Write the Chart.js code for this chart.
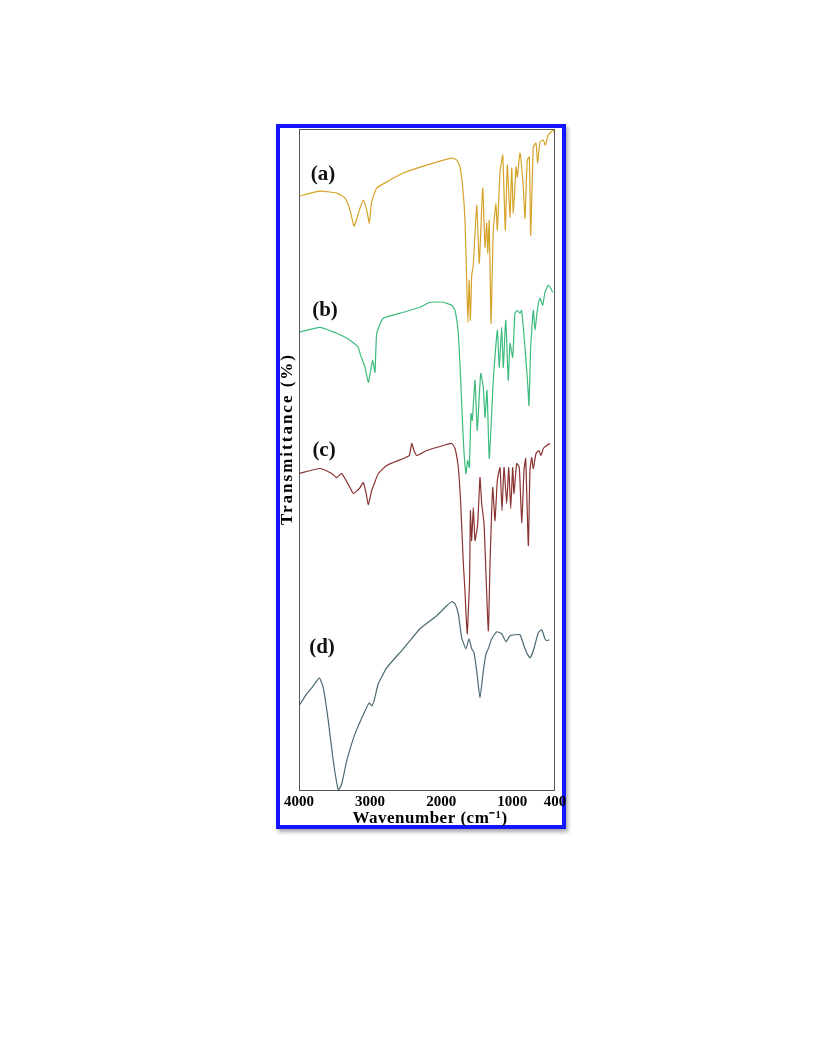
<!DOCTYPE html>
<html>
<head>
<meta charset="utf-8">
<script src="https://cdn.jsdelivr.net/npm/chart.js@4.4.0/dist/chart.umd.min.js"></script>
<style>
  body { margin: 0; background: #fff; }
  .frame { position: absolute; left: 276px; top: 124px; width: 290px; height: 705px; box-sizing: border-box;
           border: 4px solid #1414ff; box-shadow: 2px 3px 4px rgba(0,0,0,0.35); background: #fff; }
  .wrap { position: absolute; left: 260px; top: 110px; width: 320px; height: 740px; }
</style>
</head>
<body>
<div class="frame"></div>
<div class="wrap"><canvas id="ftir"></canvas></div>
<script>
//x軸の目盛り
var xTicks = [4000, 3000, 2000, 1000, 400];

//スペクトル名
var seriesNames = ['(a)', '(b)', '(c)', '(d)'];

//(a)
var waveA = [4000, 3705, 3470, 3353, 3283, 3227, 3180, 3142, 3096, 3058, 3034, 3012, 2992, 2978, 2907, 2720, 2537, 2298, 2064, 1853,
             1782, 1736, 1698, 1666, 1642, 1625, 1607, 1590, 1571, 1549, 1501, 1465, 1417, 1384, 1360, 1345, 1325, 1300, 1268, 1230,
             1211, 1173, 1135, 1099, 1071, 1033, 1009, 986, 948, 930, 892, 846, 822, 790, 761, 742, 705, 667, 644, 611,
             565, 536, 494, 424, 400];
var transA = [59.4, 59.9, 59.7, 59.2, 58.0, 56.4, 57.3, 58.2, 59.0, 58.3, 57.5, 56.7, 58.0, 58.8, 60.2, 61.0, 61.7, 62.3, 62.8, 63.2,
              63.0, 62.3, 60.3, 57.0, 51.0, 46.8, 51.0, 47.0, 51.5, 52.5, 58.5, 52.7, 60.2, 54.3, 56.7, 53.7, 57.0, 46.7, 56.0, 58.7,
              56.0, 61.8, 63.5, 56.0, 62.5, 57.3, 62.2, 57.7, 62.3, 61.3, 63.7, 60.3, 57.2, 63.0, 63.3, 55.5, 64.3, 64.7, 62.7, 64.8,
              65.0, 64.5, 65.5, 66.0, 65.5];

//(b)
var waveB = [4000, 3705, 3470, 3377, 3283, 3166, 3142, 3072, 3025, 2992, 2964, 2931, 2907, 2815, 2533, 2298, 2158, 1971, 1853, 1806,
             1760, 1726, 1689, 1652, 1628, 1605, 1581, 1563, 1525, 1493, 1445, 1408, 1384, 1356, 1324, 1268, 1211, 1183, 1150, 1127,
             1093, 1057, 1033, 995, 963, 930, 892, 869, 822, 784, 766, 742, 705, 681, 649, 611, 573, 541, 494, 461, 432];
var transB = [45.8, 46.3, 45.7, 45.4, 45.0, 44.3, 43.7, 42.3, 40.8, 42.0, 43.0, 41.8, 45.7, 47.2, 47.8, 48.3, 48.8, 48.8, 48.5, 48.0,
              45.7, 41.0, 35.0, 31.7, 33.0, 32.3, 37.7, 37.0, 41.0, 36.0, 41.7, 40.3, 37.3, 40.0, 33.2, 41.0, 46.0, 42.3, 46.3, 42.3,
              47.0, 41.0, 44.7, 43.3, 47.7, 48.0, 47.7, 48.0, 44.3, 40.7, 38.5, 44.3, 48.0, 46.0, 48.0, 49.2, 48.5, 49.8, 50.5, 50.2, 49.8];

//(c)
var waveC = [4000, 3705, 3540, 3470, 3400, 3283, 3236, 3180, 3142, 3096, 3058, 3025, 2978, 2941, 2885, 2767, 2533, 2449, 2415, 2383,
             2345, 2204, 1971, 1853, 1806, 1760, 1726, 1689, 1666, 1652, 1633, 1619, 1600, 1590, 1572, 1549, 1525, 1487, 1455, 1431,
             1398, 1338, 1314, 1276, 1244, 1211, 1173, 1145, 1117, 1079, 1051, 1023, 995, 977, 939, 902, 868, 836, 812, 775,
             752, 728, 705, 667, 625, 597, 565, 517, 470];
var transC = [31.7, 32.2, 31.7, 31.3, 31.7, 30.3, 29.7, 30.0, 30.3, 30.8, 29.8, 28.6, 30.0, 30.7, 31.7, 32.5, 33.2, 33.5, 34.7, 34.0,
              33.5, 34.0, 34.5, 34.7, 34.2, 32.3, 28.7, 22.7, 20.0, 17.7, 15.7, 18.0, 21.3, 28.0, 25.0, 28.3, 25.0, 26.7, 31.3, 28.7,
              26.7, 16.0, 22.7, 30.3, 27.0, 31.0, 32.3, 28.0, 32.3, 28.7, 32.3, 28.2, 32.3, 29.7, 32.7, 32.3, 26.8, 32.0, 33.2, 24.5,
              32.0, 33.3, 32.2, 33.7, 34.0, 33.5, 34.2, 34.5, 34.7];

//(d)
var waveD = [4000, 3892, 3799, 3715, 3658, 3588, 3518, 3447, 3400, 3329, 3213, 3072, 3011, 2978, 2945, 2885, 2767, 2533, 2298, 2064,
             1923, 1853, 1806, 1760, 1712, 1652, 1609, 1571, 1539, 1501, 1455, 1408, 1370, 1338, 1290, 1220, 1150, 1089, 1033, 963,
             892, 846, 798, 752, 705, 635, 587, 541, 517, 480];
var transD = [8.5, 9.7, 10.5, 11.3, 10.3, 7.0, 3.0, 0.1, 0.7, 3.0, 5.7, 8.0, 8.8, 8.5, 9.0, 10.7, 12.3, 14.2, 16.2, 17.5,
              18.5, 18.9, 18.7, 17.7, 15.3, 14.2, 15.2, 14.2, 13.8, 12.0, 9.3, 12.0, 13.7, 14.2, 15.2, 15.9, 15.7, 14.9, 15.5, 15.6,
              15.6, 14.7, 13.8, 13.3, 14.0, 15.8, 16.1, 15.2, 15.0, 15.1];

//ラベルの位置 (波数, 透過率)
var labelWave = [3662, 3634, 3648, 3677];
var labelTrans = [61.5, 48.0, 34.0, 14.3];

var colors = ['#d6a328', '#3dbb7c', '#8a3232', '#4d6a74'];

var serif = '"Liberation Serif", "Times New Roman", serif';

//{x, y} に変換
var toPoints = function(w, t) {
    return w.map(function(v, i) { return { x: v, y: t[i] }; });
};

var spectra = [toPoints(waveA, transA), toPoints(waveB, transB), toPoints(waveC, transC), toPoints(waveD, transD)];

//枠・軸タイトル・ラベルを描画
var framePlugin = {
    id: 'frame',
    afterDatasetsDraw: function(chart) {
        var ctx = chart.ctx;
        var area = chart.chartArea;
        var xs = chart.scales.x;
        var ys = chart.scales.y;
        ctx.save();
        ctx.strokeStyle = '#555';
        ctx.lineWidth = 1;
        ctx.strokeRect(area.left + 0.5, area.top + 0.5, area.right - area.left - 1, area.bottom - area.top - 1);

        ctx.fillStyle = '#111';
        ctx.font = 'bold 21px ' + serif;
        ctx.textAlign = 'center';
        ctx.textBaseline = 'middle';
        for (var i = 0; i < seriesNames.length; i++) {
            ctx.fillText(seriesNames[i], xs.getPixelForValue(labelWave[i]), ys.getPixelForValue(labelTrans[i]));
        }

        //x軸タイトル
        ctx.fillStyle = '#000';
        ctx.font = 'bold 17px ' + serif;
        ctx.letterSpacing = '0.5px';
        ctx.fillText('Wavenumber (cm⁻¹)', (area.left + area.right) / 2 + 3, area.bottom + 28);

        //y軸タイトル
        ctx.letterSpacing = '2px';
        ctx.translate(area.left - 11, area.top + 310);
        ctx.rotate(-Math.PI / 2);
        ctx.fillText('Transmittance (%)', 0, 0);
        ctx.restore();
    }
};

var ftir_context = document.getElementById('ftir').getContext('2d');
var ftir_chart = new Chart(ftir_context, {
    type: 'line',
    data: {
        datasets: spectra.map(function(pts, i) {
            return {
                label: seriesNames[i],
                data: pts,
                borderColor: colors[i],
                borderWidth: 1.2,
                pointRadius: 0,
                tension: 0.15,
                fill: false
            };
        })
    },
    options: {
        responsive: true,
        maintainAspectRatio: false,
        animation: false,
        layout: { padding: { left: 39, right: 25, top: 19, bottom: 37 } },
        plugins: {
            legend: { display: false },
            tooltip: { enabled: false }
        },
        scales: {
            x: {
                type: 'linear',
                reverse: true,
                min: 400,
                max: 4000,
                afterBuildTicks: function(scale) {
                    scale.ticks = xTicks.map(function(v) { return { value: v }; });
                },
                ticks: {
                    color: '#000',
                    padding: 2,
                    maxRotation: 0,
                    autoSkip: false,
                    font: { family: serif, weight: 'bold', size: 15 },
                    callback: function(v) { return String(v); }
                },
                grid: { display: false, drawTicks: false },
                border: { display: false }
            },
            y: {
                min: 0,
                max: 66.1,
                ticks: { display: false },
                grid: { display: false, drawTicks: false },
                border: { display: false }
            }
        }
    },
    plugins: [framePlugin]
});
</script>
</body>
</html>
